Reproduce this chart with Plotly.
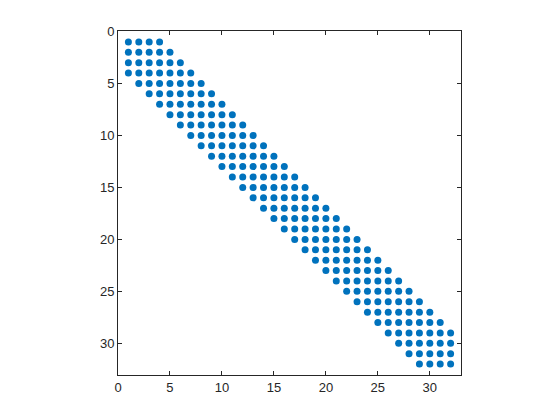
import plotly.graph_objects as go

# Sparsity pattern: for each row, first and last nonzero column
rows = list(range(1, 33))
first_col = [1, 1, 1, 1, 2, 3, 4, 5, 6, 7, 8, 9, 10, 11, 12, 13,
             14, 15, 16, 17, 18, 19, 20, 21, 22, 23, 24, 25, 26, 27, 28, 29]
last_col = [4, 5, 6, 7, 8, 9, 10, 11, 12, 13, 14, 15, 16, 17, 18, 19,
            20, 21, 22, 23, 24, 25, 26, 27, 28, 29, 30, 31, 32, 32, 32, 32]
tick_vals = [0, 5, 10, 15, 20, 25, 30]

xs, ys = [], []
for r, a, b in zip(rows, first_col, last_col):
    for c in range(a, b + 1):
        xs.append(c)
        ys.append(r)

fig = go.Figure(go.Scatter(
    x=xs, y=ys, mode="markers",
    marker=dict(color="#0072BD", size=7, line=dict(width=0)),
    hoverinfo="skip",
))

axis_common = dict(
    showgrid=False, zeroline=False, showline=True, linecolor="#262626",
    linewidth=1, mirror="ticks", ticks="inside", ticklen=4,
    tickcolor="#262626", tickvals=tick_vals,
    tickfont=dict(family="Liberation Sans, Arial", size=13, color="#262626"),
)
fig.update_xaxes(range=[0, 33], **axis_common)
fig.update_yaxes(range=[33, 0], scaleanchor="x", scaleratio=1, **axis_common)
# page body has an 8px margin, so the figure is made 8px smaller
fig.update_layout(
    width=552, height=412,
    margin=dict(l=110, r=99, t=23, b=45),
    paper_bgcolor="white", plot_bgcolor="white",
    showlegend=False,
)
fig.write_html("out.html")
